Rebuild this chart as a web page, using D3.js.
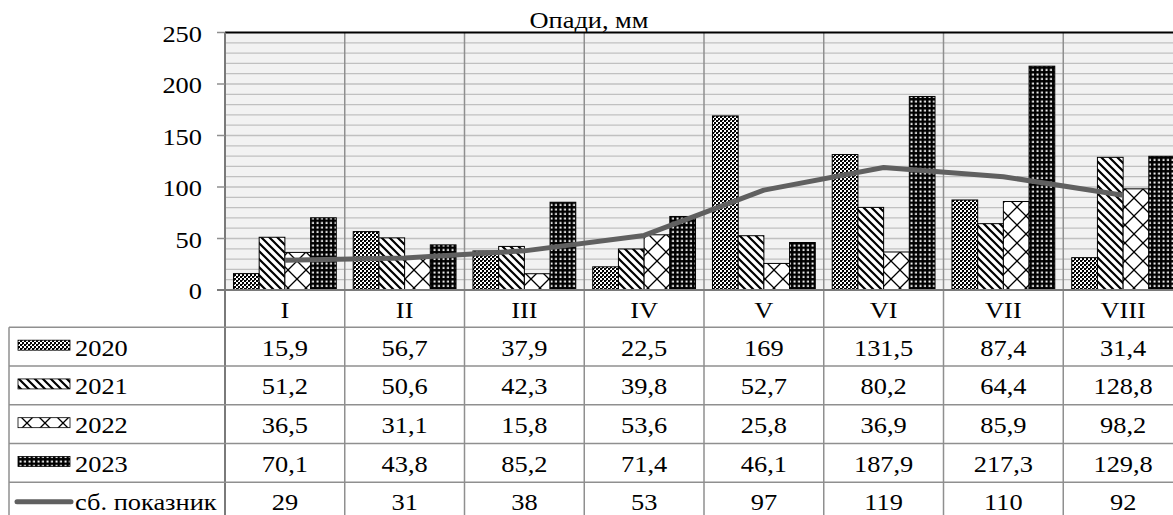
<!DOCTYPE html>
<html><head><meta charset="utf-8">
<script src="https://cdn.jsdelivr.net/npm/d3@7/dist/d3.min.js"></script>
<style>body{margin:0;background:#fff}svg{display:block}</style>
</head><body><svg id="c" width="1173" height="515" font-family="Liberation Serif" font-size="24px"></svg>
<script>
const categories = ["I","II","III","IV","V","VI","VII","VIII"];
const seriesNames = ["2020","2021","2022","2023"];
const v2020 = [15.9,56.7,37.9,22.5,169,131.5,87.4,31.4];
const v2021 = [51.2,50.6,42.3,39.8,52.7,80.2,64.4,128.8];
const v2022 = [36.5,31.1,15.8,53.6,25.8,36.9,85.9,98.2];
const v2023 = [70.1,43.8,85.2,71.4,46.1,187.9,217.3,129.8];
const lineName = "сб. показник";
const lineValues = [29,31,38,53,97,119,110,92];
const yTicks = [0,50,100,150,200,250];
const title = "Опади, мм";
const labels2020 = ["15,9","56,7","37,9","22,5","169","131,5","87,4","31,4"];
const labels2021 = ["51,2","50,6","42,3","39,8","52,7","80,2","64,4","128,8"];
const labels2022 = ["36,5","31,1","15,8","53,6","25,8","36,9","85,9","98,2"];
const labels2023 = ["70,1","43,8","85,2","71,4","46,1","187,9","217,3","129,8"];
const labelsLine = ["29","31","38","53","97","119","110","92"];

const series = [v2020,v2021,v2022,v2023];
const tableRows = [labels2020,labels2021,labels2022,labels2023,labelsLine];

const svg = d3.select("#c");
const L = 225, catW = 119.75, R = L + catW*categories.length;
const T = 32.5, B = 290;
const x = d3.scaleBand().domain(categories).range([L,R]).paddingInner(0).paddingOuter(0);
const y = d3.scaleLinear().domain([0,250]).range([B,T]);
const xs = d3.scaleBand().domain(seriesNames).range([0,x.bandwidth()]).paddingOuter(0.33).paddingInner(0);

// text helper: positions via transform with slight horizontal stretch
function txt(sel, fx, fy, anchor){
  return sel.attr("x",0).attr("y",0)
    .attr("transform",(d,i)=>`translate(${fx(d,i)},${fy(d,i)}) scale(1.1,1)`)
    .attr("text-anchor",anchor||"start")
    .attr("font-family","Liberation Serif").attr("font-size","24px").attr("fill","#000");
}

// patterns
const defs = svg.append("defs");
let p = defs.append("pattern").attr("id","p0").attr("width",4).attr("height",4).attr("patternUnits","userSpaceOnUse");
p.append("rect").attr("width",4).attr("height",4).attr("fill","#fff");
p.append("rect").attr("width",2).attr("height",2).attr("fill","#000");
p.append("rect").attr("x",2).attr("y",2).attr("width",2).attr("height",2).attr("fill","#000");
p.append("rect").attr("x",2).attr("y",0).attr("width",1).attr("height",1).attr("fill","#444");
p = defs.append("pattern").attr("id","p1").attr("width",8).attr("height",8).attr("patternUnits","userSpaceOnUse");
p.append("rect").attr("width",8).attr("height",8).attr("fill","#fff");
p.append("path").attr("d","M-2,-2L10,10M-2,6L2,10M6,-2L10,2").attr("stroke","#000").attr("stroke-width",2.2);
p = defs.append("pattern").attr("id","p2").attr("width",18).attr("height",18).attr("patternUnits","userSpaceOnUse");
p.append("rect").attr("width",18).attr("height",18).attr("fill","#fff");
p.append("path").attr("d","M0,0L18,18M18,0L0,18").attr("stroke","#000").attr("stroke-width",1.3);
p = defs.append("pattern").attr("id","p3").attr("width",4.5).attr("height",4.5).attr("patternUnits","userSpaceOnUse");
p.append("rect").attr("width",4.5).attr("height",4.5).attr("fill","#000");
p.append("rect").attr("x",1.5).attr("y",1.5).attr("width",2).attr("height",2).attr("fill","#fff");

// plot background
svg.append("rect").attr("x",L).attr("y",T).attr("width",R-L).attr("height",B-T).attr("fill","#f2f2f2");
// horizontal grid every 10
svg.append("g").selectAll("line").data(d3.range(10,250,10)).join("line")
  .attr("x1",L).attr("x2",R).attr("y1",d=>y(d)).attr("y2",d=>y(d))
  .attr("stroke","#c0c0c0").attr("stroke-width",1.3);
// vertical category lines through table
svg.append("g").selectAll("line").data(categories.slice(1)).join("line")
  .attr("x1",d=>x(d)).attr("x2",d=>x(d)).attr("y1",T).attr("y2",515)
  .attr("stroke","#8f8f8f").attr("stroke-width",1.5);

// bars
categories.forEach((c,i)=>{
  series.forEach((s,j)=>{
    svg.append("rect").attr("x",x(c)+xs(seriesNames[j])).attr("y",y(s[i]))
      .attr("width",xs.bandwidth()).attr("height",B-y(s[i]))
      .attr("fill","url(#p"+j+")").attr("stroke","#000").attr("stroke-width",1);
  });
});

// line
svg.append("path").datum(lineValues)
  .attr("d",d3.line().x((d,i)=>x(categories[i])+x.bandwidth()/2).y(d=>y(d)))
  .attr("fill","none").attr("stroke","#606060").attr("stroke-width",5).attr("stroke-linejoin","round");

// axes lines
svg.append("line").attr("x1",L).attr("x2",R).attr("y1",T).attr("y2",T).attr("stroke","#000").attr("stroke-width",2);
svg.append("line").attr("x1",L).attr("x2",L).attr("y1",T).attr("y2",515).attr("stroke","#7a7a7a").attr("stroke-width",2);
// y ticks
const ya = svg.append("g");
ya.selectAll("line").data(yTicks).join("line").attr("x1",L-8).attr("x2",L).attr("y1",d=>y(d)).attr("y2",d=>y(d)).attr("stroke","#8f8f8f").attr("stroke-width",1.5);
txt(ya.selectAll("text").data(yTicks).join("text").text(d=>d), ()=>202, d=>y(d)+9, "end");
svg.append("line").attr("x1",L-8).attr("x2",R).attr("y1",B).attr("y2",B).attr("stroke","#7a7a7a").attr("stroke-width",2.2);

// title
txt(svg.append("text").text(title), ()=>589, ()=>28, "middle");

// table
const rowH = 38.75;
const rowsY = [B].concat(d3.range(5).map(k=>B+37.3+k*rowH));
svg.append("g").selectAll("line").data(rowsY.slice(1)).join("line")
  .attr("x1",9).attr("x2",R).attr("y1",d=>d).attr("y2",d=>d).attr("stroke","#8f8f8f").attr("stroke-width",1.5);
svg.append("line").attr("x1",9).attr("x2",9).attr("y1",rowsY[1]).attr("y2",515).attr("stroke","#8f8f8f").attr("stroke-width",1.5);
// header
txt(svg.append("g").selectAll("text").data(categories).join("text").text(d=>d),
  d=>x(d)+x.bandwidth()/2, ()=>B+37.3/2+9.5, "middle");
tableRows.forEach((r,k)=>{
  txt(svg.append("g").selectAll("text").data(r).join("text").text(d=>d),
    (d,i)=>x(categories[i])+x.bandwidth()/2, ()=>rowsY[k+1]+rowH/2+(k===4?8:9), "middle");
});
// legend
seriesNames.forEach((n,j)=>{
  const cy = rowsY[j+1]+rowH/2;
  svg.append("rect").attr("x",18).attr("y",cy-6.5).attr("width",52).attr("height",10).attr("fill","url(#p"+j+")").attr("stroke","#000").attr("stroke-width",0.8);
  txt(svg.append("text").text(n), ()=>75, ()=>cy+9);
});
{
  const cy = rowsY[5]+rowH/2;
  svg.append("line").attr("x1",17).attr("x2",71).attr("y1",cy).attr("y2",cy).attr("stroke","#606060").attr("stroke-width",5).attr("stroke-linecap","round");
  txt(svg.append("text").text(lineName), ()=>75, ()=>cy+8);
}
</script></body></html>
